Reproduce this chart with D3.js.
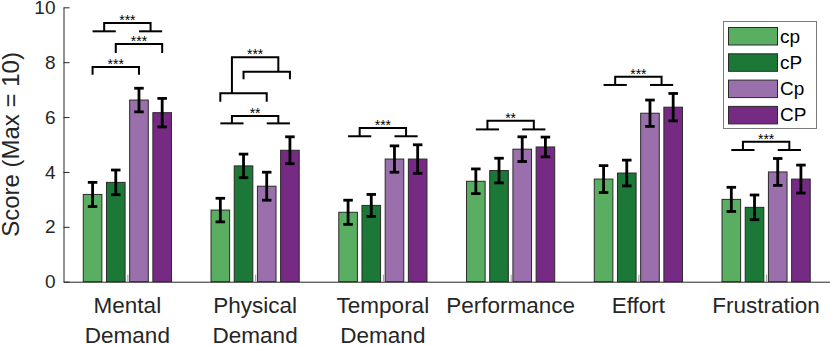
<!DOCTYPE html>
<html><head><meta charset="utf-8">
<script src="https://cdn.jsdelivr.net/npm/d3@7/dist/d3.min.js"></script>
<style>body{margin:0;background:#fff}svg{display:block;font-family:"Liberation Sans",Arial,sans-serif}</style>
</head><body><svg id="c" width="830" height="345"></svg>
<script>
// ---- data ----
const categories = [["Mental","Demand"],["Physical","Demand"],["Temporal","Demand"],["Performance"],["Effort"],["Frustration"]];
const seriesNames = ["cp","cP","Cp","CP"];
const seriesColors = ["#5aae61","#1b7837","#9970ab","#762a83"];
// means per series (order of categories)
const cpMean = [3.18, 2.61, 2.53, 3.66, 3.74, 3.00];
const cPMean = [3.62, 4.22, 2.78, 4.05, 3.96, 2.71];
const CpMean = [6.62, 3.48, 4.47, 4.83, 6.14, 4.00];
const CPMean = [6.16, 4.79, 4.47, 4.91, 6.36, 3.74];
// error half-widths
const cpErr = [0.44, 0.43, 0.44, 0.45, 0.49, 0.44];
const cPErr = [0.45, 0.43, 0.40, 0.45, 0.47, 0.45];
const CpErr = [0.43, 0.51, 0.48, 0.45, 0.48, 0.49];
const CPErr = [0.52, 0.49, 0.52, 0.36, 0.50, 0.51];
const yTicks = [0, 2, 4, 6, 8, 10];
// significance links: group, bar-index from/to, leg base values, top value, label
const sigLinks = [
  {g:0, a:0, b:1, baseA:9.125, baseB:9.125, top:9.125, label:""},
  {g:0, a:2, b:3, baseA:9.125, baseB:9.125, top:9.125, label:""},
  {g:0, a:0.5, b:2.5, baseA:9.125, baseB:9.125, top:9.43, label:"***"},
  {g:0, a:1, b:3, baseA:8.33, baseB:8.33, top:8.66, label:"***"},
  {g:0, a:0, b:2, baseA:7.54, baseB:7.54, top:7.82, label:"***"},
  {g:1, a:0, b:2, baseA:6.56, baseB:6.56, top:6.87, label:""},
  {g:1, a:1, b:3, baseA:7.38, baseB:7.38, top:7.65, label:""},
  {g:1, a:0.5, b:2.5, baseA:6.87, baseB:7.65, top:8.18, label:"***"},
  {g:1, a:0, b:1, baseA:5.77, baseB:5.77, top:5.77, label:""},
  {g:1, a:2, b:3, baseA:5.77, baseB:5.77, top:5.77, label:""},
  {g:1, a:0.5, b:2.5, baseA:5.77, baseB:5.77, top:6.04, label:"**"},
  {g:2, a:0, b:1, baseA:5.30, baseB:5.30, top:5.30, label:""},
  {g:2, a:2, b:3, baseA:5.30, baseB:5.30, top:5.30, label:""},
  {g:2, a:0.5, b:2.5, baseA:5.30, baseB:5.30, top:5.60, label:"***"},
  {g:3, a:0, b:1, baseA:5.55, baseB:5.55, top:5.55, label:""},
  {g:3, a:2, b:3, baseA:5.55, baseB:5.55, top:5.55, label:""},
  {g:3, a:0.5, b:2.5, baseA:5.55, baseB:5.55, top:5.87, label:"**"},
  {g:4, a:0, b:1, baseA:7.17, baseB:7.17, top:7.17, label:""},
  {g:4, a:2, b:3, baseA:7.17, baseB:7.17, top:7.17, label:""},
  {g:4, a:0.5, b:2.5, baseA:7.17, baseB:7.17, top:7.47, label:"***"},
  {g:5, a:0, b:1, baseA:4.80, baseB:4.80, top:4.80, label:""},
  {g:5, a:2, b:3, baseA:4.80, baseB:4.80, top:4.80, label:""},
  {g:5, a:0.5, b:2.5, baseA:4.80, baseB:4.80, top:5.10, label:"***"}
];

const means = [cpMean, cPMean, CpMean, CPMean];
const errs = [cpErr, cPErr, CpErr, CPErr];

// ---- scales ----
const svg = d3.select("#c");
const catIdx = d3.range(categories.length);
const x0 = d3.scaleBand().domain(catIdx).range([63.5, 830]).paddingInner(0).paddingOuter(0);
const inner = 88.2;
const x1 = d3.scaleBand().domain(d3.range(seriesNames.length))
  .range([x0.bandwidth()/2 - inner/2, x0.bandwidth()/2 + inner/2]).paddingInner(0.198).paddingOuter(0);
const y = d3.scaleLinear().domain([0, 10]).range([281.7, 7.3]);
const barCX = (g, k) => x0(g) + x1.range()[0] + k * x1.step() + x1.bandwidth()/2;

// ---- bars ----
const barData = [];
means.forEach((arr, s) => arr.forEach((v, g) => barData.push({s, g, v, e: errs[s][g]})));
svg.append("g").selectAll("rect").data(barData).join("rect")
  .attr("x", d => x0(d.g) + x1(d.s))
  .attr("width", x1.bandwidth())
  .attr("y", d => y(d.v))
  .attr("height", d => y(0) - y(d.v))
  .attr("fill", d => seriesColors[d.s])
  .attr("stroke", "#2a2a2a").attr("stroke-width", 1);

// ---- axes ----
const yAxis = svg.append("g").attr("transform", "translate(63.5,0)")
  .call(d3.axisLeft(y).tickValues(yTicks).tickSizeInner(-6).tickSizeOuter(0).tickPadding(8));
yAxis.select(".domain").attr("stroke", "#262626");
yAxis.selectAll(".tick line").attr("stroke", "#262626");
yAxis.selectAll("text").attr("font-size", 19).attr("fill", "#262626")
  .attr("font-family", "Liberation Sans, Arial, sans-serif");

const xAxis = svg.append("g").attr("transform", `translate(0,${y(0)})`)
  .call(d3.axisBottom(d3.scaleLinear().domain([0, categories.length]).range([63.5, 830]))
    .tickValues(catIdx.map(i => i + 0.5)).tickSizeInner(-7).tickSizeOuter(0).tickFormat(""));
xAxis.select(".domain").attr("stroke", "#262626");
xAxis.selectAll(".tick line").attr("stroke", "#999");

// category labels
const lab = svg.append("g").attr("font-size", 22.5).attr("fill", "#262626").attr("text-anchor", "middle");
categories.forEach((lines, g) => {
  lines.forEach((t, i) => {
    lab.append("text").attr("x", x0(g) + x0.bandwidth()/2).attr("y", 313.3 + i * 30).text(t);
  });
});

// y label
svg.append("text").attr("transform", `translate(18.5,${(y(0)+y(10))/2}) rotate(-90)`)
  .attr("text-anchor", "middle").attr("font-size", 24).attr("fill", "#262626").text("Score (Max = 10)");

// ---- error bars ----
const eg = svg.append("g").attr("stroke", "#000").attr("stroke-width", 2.8).attr("fill", "none");
const capW = 9.5;
barData.forEach(d => {
  const cx = barCX(d.g, d.s);
  eg.append("line").attr("x1", cx).attr("x2", cx).attr("y1", y(d.v - d.e)).attr("y2", y(d.v + d.e));
  eg.append("line").attr("x1", cx - capW/2).attr("x2", cx + capW/2).attr("y1", y(d.v + d.e)).attr("y2", y(d.v + d.e));
  eg.append("line").attr("x1", cx - capW/2).attr("x2", cx + capW/2).attr("y1", y(d.v - d.e)).attr("y2", y(d.v - d.e));
});

// ---- significance brackets ----
const sg = svg.append("g");
sigLinks.forEach(l => {
  const xa = barCX(l.g, l.a), xb = barCX(l.g, l.b);
  const p = d3.path();
  p.moveTo(xa, y(l.baseA)); p.lineTo(xa, y(l.top)); p.lineTo(xb, y(l.top)); p.lineTo(xb, y(l.baseB));
  sg.append("path").attr("d", p.toString()).attr("fill", "none").attr("stroke", "#000").attr("stroke-width", 2);
  if (l.label) {
    sg.append("text").attr("x", (xa + xb)/2).attr("y", y(l.top) + 2)
      .attr("text-anchor", "middle").attr("font-size", 14).attr("fill", "#000").text(l.label);
  }
});

// ---- legend ----
const lg = svg.append("g");
lg.append("rect").attr("x", 723.5).attr("y", 21.5).attr("width", 93).attr("height", 107)
  .attr("fill", "#fff").attr("stroke", "#7a7a7a").attr("stroke-width", 1);
seriesNames.forEach((n, i) => {
  const yy = 27.5 + i * 26.3;
  lg.append("rect").attr("x", 728.5).attr("y", yy).attr("width", 49).attr("height", 17.5)
    .attr("fill", seriesColors[i]).attr("stroke", "#2a2a2a").attr("stroke-width", 1);
  lg.append("text").attr("x", 780).attr("y", yy + 15).attr("font-size", 19).attr("fill", "#000").text(n);
});
</script></body></html>
